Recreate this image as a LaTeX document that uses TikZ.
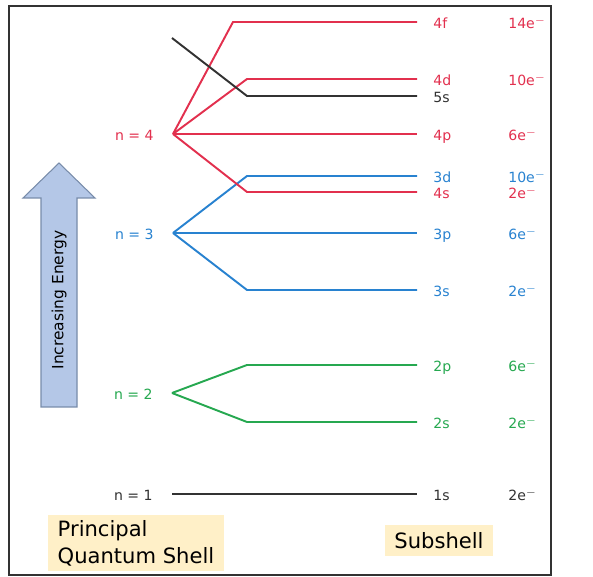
\documentclass[tikz,border=0pt]{standalone}
\usepackage{fontspec}
\setmainfont{DejaVu Sans}
\usetikzlibrary{positioning}

\definecolor{shellred}{RGB}{226,48,78}
\definecolor{shellblue}{RGB}{40,130,208}
\definecolor{shellgreen}{RGB}{38,168,80}
\definecolor{shellgrey}{RGB}{50,50,50}
\definecolor{arrowfill}{RGB}{180,199,231}
\definecolor{arrowline}{RGB}{120,140,170}
\definecolor{tagfill}{RGB}{255,240,200}

\begin{document}
\begin{tikzpicture}
  [x=0.02cm, y=-0.02cm,
   level/.style={line width=1.1pt},
   shell/.style={left=0.38cm, inner sep=0pt, text height=0.73em, text depth=0pt,
                 font=\fontsize{8}{9}\selectfont},
   sub/.style={right=0.32cm, inner sep=0pt, text height=0.73em, text depth=0pt,
               font=\fontsize{8}{9}\selectfont},
   elec/.style={anchor=west, inner sep=0pt, text height=0.73em, text depth=0pt,
                font=\fontsize{8}{9}\selectfont},
   tag/.style={fill=tagfill, inner sep=0pt, font=\fontsize{12}{15.4}\selectfont}]
  \useasboundingbox (0,0) rectangle (593,577);
  \draw[line width=1pt, shellgrey] (9,6) rectangle (551,575);

  % principal shells
  \coordinate (n4) at (173,134);
  \coordinate (n3) at (173,233);
  \coordinate (n2) at (172,393);
  \coordinate (n1) at (172,494);
  \coordinate (s5) at (172,38);
  \node[shell, shellred, left=0.38cm of n4] (l4) {n = 4};
  \node[shell, shellblue, left=0.38cm of n3] (l3) {n = 3};
  \node[shell, shellgreen, left=0.38cm of n2] (l2) {n = 2};
  \node[shell, shellgrey, left=0.38cm of n1] (l1) {n = 1};

  % subshell ends
  \coordinate (e4f) at (417,22);
  \coordinate (e4d) at (417,79);
  \coordinate (e5s) at (417,96);
  \coordinate (e4p) at (417,134);
  \coordinate (e3d) at (417,176);
  \coordinate (e4s) at (417,192);
  \coordinate (e3p) at (417,233);
  \coordinate (e3s) at (417,290);
  \coordinate (e2p) at (417,365);
  \coordinate (e2s) at (417,422);
  \coordinate (e1s) at (417,494);

  \draw[level, shellblue] (n3) -- (247,176) -- (e3d);
  \draw[level, shellblue] (n3) -- (e3p);
  \draw[level, shellblue] (n3) -- (247,290) -- (e3s);
  \draw[level, shellred] (n4) -- (233,22) -- (e4f);
  \draw[level, shellred] (n4) -- (247,79) -- (e4d);
  \draw[level, shellred] (n4) -- (e4p);
  \draw[level, shellred] (n4) -- (247,192) -- (e4s);
  \draw[level, shellgrey] (s5) -- (247,96) -- (e5s);
  \draw[level, shellgreen] (n2) -- (247,365) -- (e2p);
  \draw[level, shellgreen] (n2) -- (247,422) -- (e2s);
  \draw[level, shellgrey] (n1) -- (e1s);

  % subshell names
  \node[sub, shellred, right=0.32cm of e4f] (t4f) {4f};
  \node[sub, shellred, right=0.32cm of e4d] (t4d) {4d};
  \node[sub, shellgrey, right=0.32cm of e5s] (t5s) {5s};
  \node[sub, shellred, right=0.32cm of e4p] (t4p) {4p};
  \node[sub, shellblue, right=0.32cm of e3d] (t3d) {3d};
  \node[sub, shellred, right=0.32cm of e4s] (t4s) {4s};
  \node[sub, shellblue, right=0.32cm of e3p] (t3p) {3p};
  \node[sub, shellblue, right=0.32cm of e3s] (t3s) {3s};
  \node[sub, shellgreen, right=0.32cm of e2p] (t2p) {2p};
  \node[sub, shellgreen, right=0.32cm of e2s] (t2s) {2s};
  \node[sub, shellgrey, right=0.32cm of e1s] (t1s) {1s};

  % electrons
  \node[elec, shellred] (c4f) at (508,22) {14e$^-$};
  \node[elec, shellred] (c4d) at (508,79) {10e$^-$};
  \node[elec, shellred] (c4p) at (508,134) {6e$^-$};
  \node[elec, shellblue] (c3d) at (508,176) {10e$^-$};
  \node[elec, shellred] (c4s) at (508,192) {2e$^-$};
  \node[elec, shellblue] (c3p) at (508,233) {6e$^-$};
  \node[elec, shellblue] (c3s) at (508,290) {2e$^-$};
  \node[elec, shellgreen] (c2p) at (508,365) {6e$^-$};
  \node[elec, shellgreen] (c2s) at (508,422) {2e$^-$};
  \node[elec, shellgrey] (c1s) at (508,494) {2e$^-$};

  % energy arrow
  \draw[fill=arrowfill, draw=arrowline, line width=0.6pt]
    (59,163) -- (95,198) -- (77,198) -- (77,407) -- (41,407) -- (41,198) -- (23,198) -- cycle;
  \node[rotate=90, font=\fontsize{8.8}{10}\selectfont] (energy) at (59,300) {Increasing Energy};

  % captions
  \node[tag, minimum width=3.52cm, minimum height=1.12cm, align=left] (principal)
    at (136,543) {Principal\\Quantum Shell};
  \node[tag, minimum width=2.16cm, minimum height=0.62cm] (subshell)
    at (439,541) {Subshell};
\end{tikzpicture}
\end{document}
